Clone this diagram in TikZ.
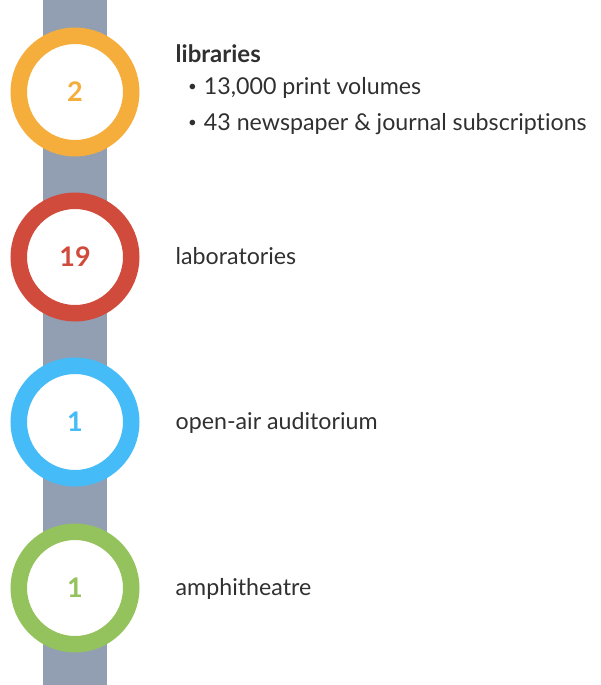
\documentclass[tikz,border=0pt]{standalone}
\usepackage{fontspec}
\setmainfont{Lato}[Ligatures=NoCommon]
\usepackage{xcolor}

\definecolor{barGrey}{HTML}{929FB3}
\definecolor{libOrange}{HTML}{F5AD3B}
\definecolor{labRed}{HTML}{D14B3C}
\definecolor{audBlue}{HTML}{45BBF7}
\definecolor{ampGreen}{HTML}{94C25C}
\definecolor{txtGrey}{HTML}{303030}

\newcommand{\smalldot}{\raisebox{2.7pt}{\scalebox{0.65}{•}}\hspace{7pt}}

\begin{document}
\begin{tikzpicture}[x=1pt, y=-1pt,
	ring/.style={circle, draw=#1, line width=16.5pt, fill=white, minimum size=112.5pt, inner sep=0pt,
		text=#1, font=\fontsize{27}{30}\selectfont\bfseries},
	label/.style={anchor=base west, text=txtGrey, inner sep=0pt, font=\fontsize{23.2}{27}\selectfont}]
	\useasboundingbox (0,0) rectangle (600,685);
	
	% Bar behind the rings
	\fill[barGrey] (43,0) rectangle (107,685);
	
	% Libraries
	\node[ring=libOrange] (libring) at (75,92) {2};
	\node[label, font=\fontsize{24}{28}\selectfont\bfseries] (libtitle) at (175.5,62.5) {libraries};
	\node[label] (libvol) at (188,94) {\smalldot 13,000 print volumes};
	\node[label] (libsub) at (188,130) {\smalldot 43 newspaper \& journal subscriptions};
	
	% Laboratories
	\node[ring=labRed] (labring) at (75,257) {19};
	\node[label] (labtext) at (175.5,264) {laboratories};
	
	% Open-air auditorium
	\node[ring=audBlue] (audring) at (75,422) {1};
	\node[label] (audtext) at (175.5,429) {open-air auditorium};
	
	% Amphitheatre
	\node[ring=ampGreen] (ampring) at (75,588) {1};
	\node[label] (amptext) at (175.5,595) {amphitheatre};
	
\end{tikzpicture}
\end{document}
